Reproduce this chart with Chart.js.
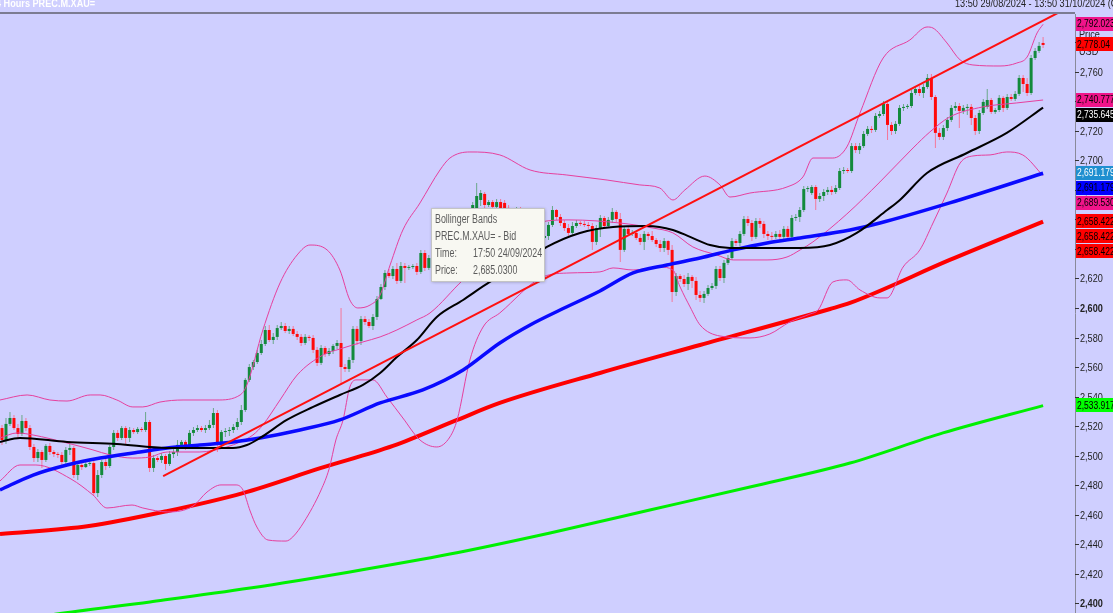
<!DOCTYPE html>
<html>
<head>
<meta charset="utf-8">
<script src="https://cdn.jsdelivr.net/npm/chart.js@4.4.1/dist/chart.umd.min.js"></script>
<style>
  html, body { margin: 0; padding: 0; background: #cfcfff; overflow: hidden; }
</style>
</head>
<body>
<canvas id="chart" width="1113" height="613"></canvas>
<script>
// 4h candles, PREC.M.XAU= (index 0 = first visible bar)
const opens = [
  2518.7, 2510.6, 2521.5, 2525.5, 2518.7, 2514.7, 2523.5, 2518.7, 2505.9, 2498.4,
  2502.5, 2497.1, 2506.6, 2502.5, 2501.1, 2500.5, 2495.7, 2503.9, 2505.2, 2486.9,
  2493.7, 2492.3, 2494.4, 2495.0, 2474.7, 2486.9, 2495.7, 2493.0, 2505.9, 2515.4,
  2512.0, 2518.7, 2512.0, 2517.4, 2516.0, 2518.1, 2517.4, 2522.8, 2491.7, 2498.4,
  2497.1, 2499.8, 2494.4, 2501.1, 2502.5, 2507.3, 2509.3, 2506.6, 2515.4, 2517.4,
  2518.7, 2517.4, 2518.7, 2520.8, 2528.9, 2508.6, 2516.0, 2516.7, 2517.4, 2519.4,
  2522.8, 2530.9, 2551.3, 2560.0, 2563.4, 2569.5, 2575.6, 2585.1, 2578.3, 2580.4,
  2586.4, 2587.8, 2584.4, 2585.8, 2582.4, 2580.4, 2576.3, 2580.4, 2579.7, 2571.6,
  2562.8, 2572.9, 2568.8, 2570.9, 2574.3, 2576.3, 2560.0, 2558.7, 2564.8, 2585.8,
  2577.6, 2592.5, 2590.5, 2587.8, 2593.9, 2606.1, 2614.2, 2623.7, 2621.6, 2626.4,
  2618.3, 2628.4, 2627.1, 2627.7, 2628.4, 2624.4, 2637.2, 2627.1, 2633.8, 2639.3,
  2642.6, 2640.6, 2647.4, 2651.4, 2649.4, 2656.2, 2659.6, 2665.0, 2663.6, 2667.0,
  2673.1, 2677.2, 2669.7, 2671.7, 2668.4, 2671.7, 2671.1, 2667.7, 2665.0, 2662.9,
  2666.3, 2662.3, 2665.0, 2660.9, 2658.2, 2651.4, 2647.4, 2648.7, 2656.2, 2666.3,
  2661.6, 2657.5, 2654.1, 2650.8, 2655.5, 2657.5, 2656.9, 2656.2, 2655.5, 2644.7,
  2654.1, 2660.9, 2655.5, 2659.6, 2665.0, 2660.2, 2639.3, 2653.5, 2650.1, 2650.8,
  2647.4, 2644.7, 2650.1, 2648.7, 2646.0, 2643.3, 2640.6, 2645.3, 2639.3, 2610.8,
  2621.6, 2619.6, 2616.2, 2621.0, 2618.3, 2608.8, 2606.8, 2609.5, 2613.5, 2614.9,
  2626.4, 2620.3, 2630.5, 2633.8, 2645.3, 2644.0, 2650.1, 2660.2, 2657.5, 2648.1,
  2658.9, 2656.9, 2650.1, 2648.7, 2648.1, 2650.1, 2648.1, 2653.5, 2648.1, 2660.9,
  2661.6, 2666.3, 2680.5, 2677.8, 2681.9, 2673.8, 2675.8, 2678.5, 2679.9, 2678.5,
  2681.2, 2692.7, 2693.4, 2692.7, 2709.6, 2706.9, 2709.6, 2717.8, 2721.2, 2720.5,
  2730.0, 2731.3, 2738.1, 2723.9, 2719.8, 2724.6, 2735.4, 2736.1, 2736.7, 2745.5,
  2748.2, 2745.5, 2749.6, 2755.7, 2742.8, 2718.5, 2715.8, 2721.8, 2727.3, 2735.4,
  2736.7, 2733.4, 2735.4, 2736.1, 2728.6, 2719.8, 2732.0, 2736.1, 2740.8, 2732.7,
  2734.0, 2742.2, 2735.4, 2742.8, 2741.5, 2744.9, 2755.7, 2751.6, 2745.5, 2769.2,
  2774.0, 2779.4
];
const highs = [
  2520.8, 2525.5, 2529.6, 2527.5, 2521.5, 2527.5, 2525.5, 2520.8, 2507.9, 2504.5,
  2503.9, 2507.9, 2508.6, 2503.9, 2502.5, 2502.5, 2505.9, 2507.9, 2506.6, 2495.7,
  2495.7, 2495.7, 2497.1, 2497.1, 2490.3, 2497.1, 2498.4, 2507.3, 2517.4, 2517.4,
  2520.1, 2520.1, 2519.4, 2518.7, 2519.4, 2519.4, 2529.6, 2524.2, 2500.5, 2499.8,
  2501.8, 2501.1, 2503.2, 2504.5, 2510.6, 2510.6, 2510.6, 2517.4, 2519.4, 2520.8,
  2520.1, 2520.8, 2524.2, 2532.3, 2530.9, 2517.4, 2518.7, 2519.4, 2521.5, 2525.5,
  2534.3, 2552.6, 2562.1, 2564.8, 2571.6, 2578.3, 2587.8, 2588.5, 2583.1, 2588.5,
  2590.5, 2589.8, 2587.8, 2587.8, 2584.4, 2582.4, 2582.4, 2581.7, 2581.7, 2573.6,
  2574.9, 2574.3, 2572.9, 2575.6, 2578.3, 2600.0, 2562.1, 2566.8, 2587.8, 2587.8,
  2594.6, 2594.6, 2592.5, 2595.9, 2608.1, 2616.2, 2625.7, 2626.4, 2628.4, 2630.5,
  2631.1, 2630.5, 2629.1, 2629.8, 2630.5, 2639.3, 2639.3, 2635.9, 2642.0, 2644.7,
  2646.0, 2649.4, 2654.1, 2654.1, 2658.2, 2662.3, 2667.0, 2667.7, 2671.7, 2684.6,
  2679.9, 2678.5, 2673.1, 2673.1, 2673.8, 2673.8, 2673.1, 2669.7, 2667.7, 2668.4,
  2668.4, 2667.0, 2666.3, 2662.9, 2660.9, 2654.1, 2651.4, 2658.2, 2669.0, 2667.0,
  2663.6, 2659.6, 2656.9, 2658.2, 2659.6, 2658.9, 2658.9, 2658.2, 2657.5, 2656.2,
  2662.9, 2662.3, 2661.6, 2667.7, 2666.3, 2664.3, 2655.5, 2655.5, 2652.8, 2652.1,
  2650.1, 2652.1, 2651.4, 2652.1, 2647.4, 2646.0, 2647.4, 2646.0, 2642.6, 2623.7,
  2623.0, 2622.3, 2623.7, 2622.3, 2621.0, 2611.5, 2611.5, 2615.6, 2616.9, 2628.4,
  2628.4, 2632.5, 2635.9, 2647.4, 2646.7, 2652.1, 2662.3, 2662.3, 2659.6, 2660.9,
  2660.9, 2658.9, 2652.1, 2651.4, 2652.1, 2652.8, 2655.5, 2655.5, 2662.9, 2663.6,
  2668.4, 2682.6, 2682.6, 2683.3, 2683.3, 2677.8, 2680.5, 2681.9, 2682.6, 2683.3,
  2694.8, 2695.4, 2694.8, 2711.7, 2711.7, 2711.7, 2719.8, 2723.2, 2723.2, 2732.0,
  2733.4, 2740.1, 2740.1, 2725.9, 2726.6, 2737.4, 2738.1, 2738.1, 2747.6, 2750.3,
  2750.3, 2751.6, 2758.4, 2758.4, 2744.2, 2721.8, 2723.9, 2729.3, 2737.4, 2739.4,
  2738.8, 2737.4, 2738.1, 2738.1, 2730.6, 2734.0, 2741.5, 2748.2, 2742.2, 2735.4,
  2744.2, 2743.5, 2744.9, 2744.9, 2746.9, 2757.7, 2757.7, 2755.7, 2771.3, 2776.0,
  2780.1, 2783.5
];
const lows = [
  2507.3, 2507.9, 2520.1, 2517.4, 2512.0, 2513.3, 2516.7, 2503.9, 2495.7, 2495.7,
  2491.7, 2495.7, 2500.5, 2499.1, 2498.4, 2493.7, 2493.0, 2500.5, 2484.9, 2483.5,
  2490.3, 2491.7, 2493.0, 2472.7, 2472.0, 2484.9, 2490.3, 2491.7, 2503.9, 2510.0,
  2510.6, 2507.9, 2509.3, 2514.7, 2514.7, 2516.0, 2516.0, 2489.0, 2489.0, 2495.7,
  2495.0, 2490.3, 2493.0, 2498.4, 2499.8, 2505.2, 2503.9, 2505.2, 2513.3, 2516.0,
  2516.0, 2515.4, 2517.4, 2518.7, 2502.5, 2506.6, 2512.7, 2513.3, 2515.4, 2517.4,
  2520.8, 2529.6, 2549.9, 2558.0, 2562.1, 2568.2, 2574.3, 2577.0, 2575.6, 2578.3,
  2585.1, 2583.1, 2582.4, 2581.0, 2578.3, 2574.3, 2575.0, 2577.6, 2569.5, 2560.7,
  2561.4, 2566.8, 2567.5, 2568.8, 2572.2, 2547.9, 2556.7, 2556.7, 2562.8, 2575.0,
  2575.0, 2588.5, 2586.4, 2585.1, 2591.9, 2605.4, 2612.2, 2620.3, 2619.6, 2616.2,
  2616.9, 2616.9, 2625.7, 2626.4, 2622.3, 2623.0, 2625.0, 2625.7, 2631.1, 2635.9,
  2637.9, 2639.3, 2644.7, 2647.4, 2647.4, 2654.1, 2656.9, 2661.6, 2662.3, 2665.7,
  2669.0, 2667.7, 2668.4, 2667.0, 2667.0, 2665.7, 2665.0, 2662.3, 2659.6, 2659.6,
  2659.6, 2658.2, 2656.9, 2654.1, 2648.7, 2644.7, 2644.0, 2646.0, 2654.8, 2659.6,
  2655.5, 2652.1, 2648.7, 2649.4, 2654.1, 2655.5, 2654.8, 2653.5, 2639.3, 2642.6,
  2648.1, 2654.1, 2654.1, 2657.5, 2658.2, 2631.1, 2637.9, 2648.7, 2648.7, 2646.0,
  2642.6, 2639.3, 2646.0, 2644.7, 2641.3, 2637.9, 2637.9, 2635.9, 2604.1, 2608.1,
  2617.6, 2614.2, 2612.2, 2613.5, 2605.4, 2604.1, 2603.4, 2608.1, 2612.2, 2612.9,
  2618.3, 2616.9, 2629.1, 2632.5, 2642.0, 2642.0, 2648.7, 2655.5, 2645.3, 2646.7,
  2654.1, 2647.4, 2646.0, 2646.0, 2646.7, 2646.0, 2646.0, 2646.0, 2646.7, 2658.9,
  2658.2, 2665.0, 2678.5, 2676.5, 2666.3, 2671.7, 2672.4, 2676.5, 2676.5, 2677.2,
  2679.9, 2690.7, 2691.4, 2691.4, 2704.9, 2704.2, 2708.3, 2716.4, 2718.5, 2719.1,
  2728.6, 2730.0, 2713.7, 2717.1, 2717.8, 2723.2, 2733.4, 2734.7, 2735.4, 2744.2,
  2743.5, 2742.2, 2748.2, 2740.8, 2708.3, 2713.7, 2713.7, 2719.8, 2725.9, 2733.4,
  2721.8, 2731.3, 2730.6, 2723.9, 2717.1, 2717.8, 2730.6, 2734.7, 2731.3, 2731.3,
  2732.7, 2732.7, 2734.0, 2740.1, 2740.1, 2743.5, 2746.2, 2743.5, 2744.2, 2767.9,
  2772.6, 2776.0
];
const closes = [
  2510.6, 2521.5, 2525.5, 2518.7, 2514.7, 2523.5, 2518.7, 2505.9, 2498.4, 2502.5,
  2497.1, 2506.6, 2502.5, 2501.1, 2500.5, 2495.7, 2503.9, 2505.2, 2486.9, 2493.7,
  2492.3, 2494.4, 2495.0, 2474.7, 2486.9, 2495.7, 2493.0, 2505.9, 2515.4, 2512.0,
  2518.7, 2512.0, 2517.4, 2516.0, 2518.1, 2517.4, 2522.8, 2491.7, 2498.4, 2497.1,
  2499.8, 2494.4, 2501.1, 2502.5, 2507.3, 2509.3, 2506.6, 2515.4, 2517.4, 2518.7,
  2517.4, 2518.7, 2520.8, 2528.9, 2508.6, 2516.0, 2516.7, 2517.4, 2519.4, 2522.8,
  2530.9, 2551.3, 2560.0, 2563.4, 2569.5, 2575.6, 2585.1, 2578.3, 2580.4, 2586.4,
  2587.8, 2584.4, 2585.8, 2582.4, 2580.4, 2576.3, 2580.4, 2579.7, 2571.6, 2562.8,
  2572.9, 2568.8, 2570.9, 2574.3, 2576.3, 2560.0, 2558.7, 2564.8, 2585.8, 2577.6,
  2592.5, 2590.5, 2587.8, 2593.9, 2606.1, 2614.2, 2623.7, 2621.6, 2626.4, 2618.3,
  2628.4, 2627.1, 2627.7, 2628.4, 2624.4, 2637.2, 2627.1, 2633.8, 2639.3, 2642.6,
  2640.6, 2647.4, 2651.4, 2649.4, 2656.2, 2659.6, 2665.0, 2663.6, 2669.7, 2675.8,
  2677.8, 2669.7, 2671.7, 2668.4, 2671.7, 2667.7, 2667.7, 2665.0, 2662.9, 2666.3,
  2662.3, 2665.0, 2660.9, 2658.2, 2651.4, 2647.4, 2648.7, 2656.2, 2666.3, 2661.6,
  2657.5, 2654.1, 2650.8, 2655.5, 2657.5, 2656.9, 2656.2, 2655.5, 2644.7, 2654.1,
  2660.9, 2655.5, 2659.6, 2665.0, 2660.2, 2639.3, 2653.5, 2650.1, 2650.8, 2647.4,
  2644.7, 2650.1, 2648.7, 2646.0, 2643.3, 2640.6, 2645.3, 2639.3, 2610.8, 2621.6,
  2619.6, 2616.2, 2621.0, 2618.3, 2608.8, 2606.8, 2609.5, 2613.5, 2614.9, 2626.4,
  2620.3, 2630.5, 2633.8, 2645.3, 2644.0, 2650.1, 2660.2, 2657.5, 2648.1, 2658.9,
  2656.9, 2650.1, 2648.7, 2648.1, 2650.1, 2648.1, 2653.5, 2648.1, 2660.9, 2661.6,
  2666.3, 2680.5, 2681.2, 2681.9, 2673.8, 2675.8, 2678.5, 2679.9, 2678.5, 2681.2,
  2692.7, 2693.4, 2692.7, 2709.6, 2706.9, 2709.6, 2717.8, 2721.2, 2720.5, 2730.0,
  2731.3, 2738.1, 2723.9, 2719.8, 2724.6, 2735.4, 2736.1, 2736.7, 2745.5, 2748.2,
  2745.5, 2749.6, 2755.7, 2742.8, 2718.5, 2715.8, 2721.8, 2727.3, 2735.4, 2736.7,
  2733.4, 2735.4, 2736.1, 2728.6, 2719.8, 2732.0, 2739.5, 2740.8, 2732.7, 2734.0,
  2742.2, 2735.4, 2742.8, 2741.5, 2744.9, 2755.7, 2751.6, 2745.5, 2769.2, 2774.0,
  2777.4, 2778.04
];

// indicator lines, sampled at bar index (xxAt) with the read value (xx)
const bbUpperAt = [-0.5, 6.3, 12.0, 16.3, 22.1, 24.6, 28.8, 32.8, 35.3, 39.6, 45.4, 53.9, 59.7, 61.4, 65.4, 69.7,
  74.0, 77.2, 81.5, 84.7, 87.2, 89.2, 92.3, 94.8, 97.3, 100.5, 104.8, 109.8, 112.3, 117.3, 124.8, 132.4,
  141.6, 151.7, 159.9, 164.9, 168.2, 171.2, 176.2, 180.0, 182.5, 187.5, 196.8, 200.8, 203.3, 208.3, 211.8,
  215.1, 220.9, 227.6, 231.9, 233.4, 236.9, 240.2, 243.4, 250.2, 254.4, 257.0, 259.5, 261];
const bbUpper = [2537.7, 2541.1, 2537.7, 2537.0, 2541.1, 2541.1, 2537.7, 2533.0, 2533.0, 2536.3, 2537.7, 2537.7, 2541.1, 2547.9, 2585.1, 2616.9,
  2635.9, 2642.6, 2639.3, 2625.7, 2605.4, 2600.0, 2602.0, 2608.8, 2629.1, 2652.8, 2671.1, 2693.4, 2701.5, 2705.6, 2703.6, 2693.4,
  2690.0, 2686.6, 2683.3, 2681.2, 2673.1, 2679.9, 2689.3, 2683.3, 2675.1, 2677.8, 2681.9, 2688.7, 2701.5, 2701.5, 2709.0,
  2732.0, 2769.2, 2781.4, 2790.2, 2789.5, 2779.4, 2767.9, 2764.5, 2763.8, 2765.8, 2769.9, 2786.2, 2792.023];

const bbMidAt = [-0.5, 3.8, 7.8, 16.3, 22.8, 27.1, 32.8, 37.1, 41.4, 49.6, 56.4, 59.7, 62.9, 65.4, 69.7, 74.0,
  80.5, 84.7, 90.5, 94.8, 99.0, 104.0, 107.3, 115.6, 120.6, 124.8, 129.9, 136.6, 142.4, 154.9, 163.2, 168.2,
  173.2, 179.2, 183.3, 191.8, 196.8, 200.1, 203.3, 211.8, 220.1, 228.4, 232.6, 237.6, 245.9, 254.4, 261];
const bbMid = [2512.0, 2515.4, 2514.0, 2508.6, 2503.9, 2500.5, 2498.4, 2499.1, 2502.5, 2502.5, 2505.9, 2509.3, 2514.0, 2520.8, 2537.7, 2554.6,
  2568.2, 2572.2, 2577.0, 2580.4, 2585.1, 2591.9, 2596.6, 2619.0, 2630.4, 2639.3, 2649.4, 2658.9, 2659.6, 2657.5, 2654.1, 2650.8,
  2641.3, 2635.9, 2632.5, 2632.5, 2634.5, 2639.3, 2644.7, 2663.6, 2685.3, 2708.3, 2719.1, 2729.3, 2736.1, 2738.8, 2740.777];

const bbLowerAt = [-0.5, 4.5, 8.5, 17.3, 22.8, 26.3, 32.6, 35.3, 41.6, 47.9, 51.4, 54.9, 58.7, 60.4, 62.2, 63.9,
  66.7, 71.2, 72.9, 75.7, 80.0, 82.0, 83.7, 85.5, 87.2, 89.0, 93.0, 96.5, 100.5, 104.8, 109.0, 112.3,
  114.1, 117.3, 120.6, 124.8, 135.6, 142.4, 149.9, 153.2, 158.2, 164.9, 168.2, 170.0, 172.5, 175.0, 180.0,
  187.5, 192.5, 197.5, 202.6, 204.6, 208.3, 211.8, 215.1, 220.1, 221.9, 225.9, 230.1, 233.4, 236.9, 240.2,
  243.4, 247.7, 251.9, 255.9, 261];
const bbLower = [2482.9, 2493.7, 2493.7, 2484.2, 2473.4, 2464.6, 2466.6, 2464.6, 2461.9, 2465.9, 2475.4, 2480.2, 2480.2, 2476.8, 2462.6, 2451.7,
  2442.9, 2442.2, 2445.0, 2455.1, 2476.8, 2491.0, 2510.6, 2524.2, 2546.5, 2551.3, 2551.3, 2539.7, 2525.5, 2510.6, 2505.9, 2512.7,
  2524.2, 2564.8, 2587.1, 2596.6, 2621.0, 2623.7, 2624.4, 2627.1, 2625.7, 2627.7, 2625.7, 2614.2, 2600.7, 2588.5, 2581.0,
  2579.7, 2582.4, 2590.5, 2595.9, 2598.6, 2617.6, 2619.0, 2612.2, 2606.8, 2606.8, 2627.7, 2639.3, 2657.5, 2677.8, 2698.1,
  2702.9, 2703.6, 2705.6, 2703.6, 2689.53];

const smaBlackAt = [-0.5, 4.5, 16.3, 28.8, 41.4, 57.9, 61.4, 64.7, 71.4, 78.0, 84.7, 90.5, 94.8, 99.0, 104.0, 109.0,
  115.6, 122.3, 129.9, 136.6, 144.9, 153.2, 161.7, 168.2, 172.5, 177.5, 182.5, 200.1, 207.6, 214.3, 221.9, 225.1,
  231.9, 241.9, 251.9, 261];
const smaBlack = [2509.3, 2512.0, 2509.3, 2507.9, 2505.2, 2505.2, 2507.2, 2512.0, 2524.2, 2533.0, 2541.1, 2547.9, 2556.0, 2566.8, 2578.3, 2593.9,
  2605.4, 2617.6, 2629.1, 2641.3, 2650.8, 2654.8, 2655.5, 2652.8, 2648.1, 2642.6, 2640.6, 2640.6, 2642.6, 2650.8, 2666.3, 2673.1,
  2691.4, 2704.9, 2718.5, 2735.645];

const smaBlueAt = [-0.5, 7.8, 16.3, 24.6, 34.6, 41.4, 49.6, 57.9, 64.7, 74.7, 84.7, 94.8, 105.5, 115.6, 124.8, 132.4,
  139.9, 149.9, 158.2, 166.7, 175.0, 183.3, 191.8, 200.1, 212.6, 220.1, 237.6, 261];
const smaBlue = [2476.8, 2486.9, 2493.7, 2498.4, 2502.5, 2505.2, 2507.2, 2509.3, 2512.0, 2517.4, 2524.2, 2535.7, 2544.5, 2558.0, 2576.3, 2588.5,
  2598.6, 2611.5, 2623.7, 2629.1, 2633.8, 2639.3, 2644.0, 2647.4, 2652.8, 2657.5, 2671.1, 2691.179];

const smaRedAt = [-0.5, 21.8, 41.6, 60.4, 80.0, 98.0, 114.1, 124.8, 149.9, 175.0, 207.6, 212.6, 237.6, 261];
const smaRed = [2447.0, 2452.4, 2462.6, 2474.7, 2491.7, 2506.6, 2524.2, 2535.7, 2556.0, 2574.9, 2599.3, 2603.4, 2632.5, 2658.422];

const smaGreenAt = [-0.5, 13.3, 37.1, 62.2, 87.2, 112.3, 137.4, 162.4, 187.5, 212.6, 235.9, 261];
const smaGreen = [2386.5, 2392.6, 2401.0, 2410.4, 2421.3, 2433.4, 2447.7, 2463.2, 2478.8, 2495.0, 2515.4, 2533.917];

// hand-drawn trend line (two anchor points)
const trendAt = [40.4, 269];
const trend = [2486.2, 2805.7];

// right axis
const yTicks = [2400, 2420, 2440, 2460, 2480, 2500, 2520, 2540, 2560, 2580, 2600,
  2620, 2640, 2660, 2680, 2700, 2720, 2740, 2760, 2780];

// last-value tags on the price axis
const tagValues = [2792.023, 2778.04, 2740.777, 2735.645, 2691.179, 2691.179, 2689.530, 2658.422, 2658.422, 2658.422, 2533.917];
const tagDecimals = [3, 2, 3, 3, 3, 3, 3, 3, 3, 3, 3];

// hover box text
const tipHead = ['Bollinger Bands', 'PREC.M.XAU= - Bid'];
const tipKeys = ['Time:', 'Price:'];
const tipVals = ['17:50 24/09/2024', '2,685.0300'];

// ---------- styles ----------
const BG = '#cfcfff';
const UP = '#138a3c', DOWN = '#ff0a0a';
const UP_WICK = '#6aa88a', DOWN_WICK = '#f4789a';
const PINK = '#e6409e';
const tagStyle = [
  ['#f0148a', '#000'], ['#ff0000', '#000'], ['#f0148a', '#000'], ['#000000', '#fff'],
  ['#1f8fd0', '#fff'], ['#0000ff', '#000'], ['#f0148a', '#000'],
  ['#ff0000', '#000'], ['#ff0000', '#000'], ['#ff0000', '#000'], ['#00ff00', '#000']
];
const FONT = '"Liberation Sans", Arial, sans-serif';

const pts = (xs, ys) => xs.map((x, i) => ({ x: x, y: ys[i] }));
const fmt = (v, d) => v.toLocaleString('en-US', { minimumFractionDigits: d, maximumFractionDigits: d });

function narrow(ctx, text, x, y, sx) {
  ctx.save();
  ctx.translate(x, y);
  ctx.scale(sx, 1);
  ctx.fillText(text, 0, 0);
  ctx.restore();
}

function lineSet(xs, ys, color, width, order) {
  return {
    type: 'line',
    data: pts(xs, ys),
    borderColor: color,
    borderWidth: width,
    pointRadius: 0,
    cubicInterpolationMode: 'monotone',
    fill: false,
    order: order
  };
}

const isUp = closes.map((c, i) => c >= opens[i]);

// background, axis, tags, titles, hover box
const decor = {
  id: 'decor',
  beforeDraw(chart) {
    const ctx = chart.ctx;
    ctx.save();
    ctx.fillStyle = BG;
    ctx.fillRect(0, 0, chart.width, chart.height);
    ctx.restore();
  },
  afterDraw(chart) {
    const ctx = chart.ctx;
    const ys = chart.scales.y;
    const a = chart.chartArea;
    ctx.save();

    // header separator + price axis line
    ctx.strokeStyle = '#7c7c92';
    ctx.lineWidth = 2;
    ctx.beginPath(); ctx.moveTo(0, a.top - 1); ctx.lineTo(a.right, a.top - 1); ctx.stroke();
    ctx.lineWidth = 1;
    ctx.strokeStyle = '#8a8a9a';
    ctx.beginPath(); ctx.moveTo(a.right + 0.5, a.top); ctx.lineTo(a.right + 0.5, a.bottom); ctx.stroke();

    // ticks and labels
    ctx.fillStyle = '#222';
    ctx.textBaseline = 'middle';
    ctx.strokeStyle = '#333';
    yTicks.forEach(v => {
      const py = Math.round(ys.getPixelForValue(v)) + 0.5;
      ctx.beginPath(); ctx.moveTo(a.right, py); ctx.lineTo(a.right + 4, py); ctx.stroke();
      ctx.font = (v % 200 === 0 ? 'bold ' : '') + '11px ' + FONT;
      narrow(ctx, fmt(v, 0), a.right + 5, py, 0.83);
    });

    // axis caption
    ctx.font = '11px ' + FONT;
    narrow(ctx, 'Price', a.right + 4, ys.getPixelForValue(2785), 0.83);
    narrow(ctx, 'USD', a.right + 4, ys.getPixelForValue(2773), 0.83);

    // value tags, stacked so they do not overlap
    const h = 15;
    let prev = -100;
    tagValues.forEach((v, i) => {
      let py = ys.getPixelForValue(v);
      if (py < prev + h) py = prev + h;
      prev = py;
      ctx.fillStyle = tagStyle[i][0];
      ctx.fillRect(a.right + 1, Math.round(py - h / 2), chart.width - a.right, h - 1);
      ctx.fillStyle = tagStyle[i][1];
      ctx.font = '11px ' + FONT;
      narrow(ctx, fmt(v, tagDecimals[i]), a.right + 2, py, 0.77);
    });

    // header texts
    ctx.textBaseline = 'alphabetic';
    ctx.fillStyle = '#ffffff';
    ctx.font = 'bold 11px ' + FONT;
    narrow(ctx, '4 Hours PREC.M.XAU=', -4, 7, 0.83);
    ctx.fillStyle = '#222';
    ctx.font = '11px ' + FONT;
    narrow(ctx, '13:50 29/08/2024 - 13:50 31/10/2024 (GMT)', 955, 7, 0.83);

    // hover info box
    const bx = 431, by = 208, bw = 113, bh = 73;
    ctx.shadowColor = 'rgba(0,0,0,0.3)';
    ctx.shadowBlur = 3;
    ctx.shadowOffsetX = 1;
    ctx.shadowOffsetY = 1;
    ctx.fillStyle = '#f8f8f2';
    ctx.fillRect(bx, by, bw, bh);
    ctx.shadowColor = 'transparent';
    ctx.strokeStyle = '#c4c4c4';
    ctx.strokeRect(bx + 0.5, by + 0.5, bw, bh);
    ctx.fillStyle = '#5c5c5c';
    ctx.textBaseline = 'middle';
    ctx.font = '12px ' + FONT;
    narrow(ctx, tipHead[0], bx + 4, by + 12, 0.74);
    narrow(ctx, tipHead[1], bx + 4, by + 29, 0.74);
    tipKeys.forEach((k, i) => {
      narrow(ctx, k, bx + 4, by + 46 + i * 17, 0.74);
      narrow(ctx, tipVals[i], bx + 42, by + 46 + i * 17, 0.74);
    });
    ctx.restore();
  }
};

new Chart(document.getElementById('chart'), {
  type: 'bar',
  data: {
    datasets: [
      {
        label: 'wicks',
        data: lows.map((l, i) => ({ x: i, y: [l, highs[i]] })),
        backgroundColor: isUp.map(u => u ? UP_WICK : DOWN_WICK),
        barThickness: 1,
        grouped: false,
        inflateAmount: 0,
        order: 20
      },
      {
        label: 'bodies',
        data: opens.map((o, i) => ({ x: i, y: [o, closes[i]] })),
        backgroundColor: isUp.map(u => u ? UP : DOWN),
        barThickness: 3,
        minBarLength: 1,
        grouped: false,
        inflateAmount: 0,
        order: 19
      },
      lineSet(smaGreenAt, smaGreen, '#00f000', 3, 6),
      lineSet(smaRedAt, smaRed, '#ff0000', 4, 5),
      lineSet(bbUpperAt, bbUpper, PINK, 1, 4),
      lineSet(bbLowerAt, bbLower, PINK, 1, 4),
      lineSet(bbMidAt, bbMid, PINK, 1, 4),
      lineSet(smaBlueAt, smaBlue, '#0a0aff', 3.5, 3),
      lineSet(smaBlackAt, smaBlack, '#000000', 2, 2),
      Object.assign(lineSet(trendAt, trend, '#ff1010', 2, 1), { cubicInterpolationMode: 'default', tension: 0 })
    ]
  },
  options: {
    responsive: false,
    animation: false,
    events: [],
    layout: { padding: { left: 0, top: 14, right: 38, bottom: 0 } },
    plugins: { legend: { display: false }, tooltip: { enabled: false } },
    scales: {
      x: { type: 'linear', display: false, offset: false, min: -0.5, max: 269 },
      y: { display: false, min: 2393.5, max: 2799.0 }
    }
  },
  plugins: [decor]
});
</script>
</body>
</html>
